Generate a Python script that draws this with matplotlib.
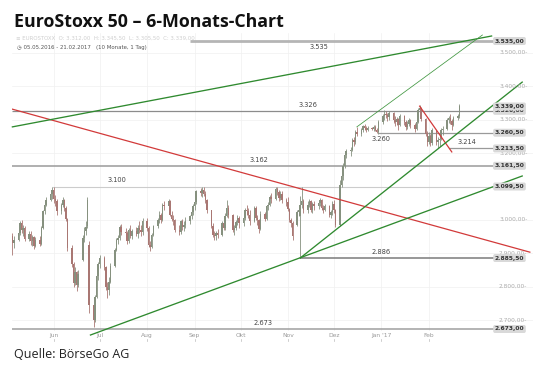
import numpy as np, pandas as pd
import matplotlib
matplotlib.use('Agg')
from matplotlib import pyplot as plt
from matplotlib import dates as mdates
from matplotlib.transforms import blended_transform_factory

# daily candles 05.05.2016 - 21.02.2017 (one row per month)
opens = [
  2950,2930,2940,2960,2990,2968,2975,2942,2958,2935,2948,2920,2940,2928,2975,3025,3045,3060,3078,
  3088,3062,3055,3025,3045,3058,3035,3002,2915,2868,2812,2845,2805,2880,2945,2965,2980,2925,2745,2700,2768,2832,
  2868,2885,2860,2800,2790,2815,2862,2910,2940,2945,2978,2962,2960,2935,2968,2950,2965,2958,2975,2970,2962,
  2995,2975,2925,2918,2955,2980,2998,3015,2998,3045,3040,3055,3015,3002,2998,2968,2962,2995,2978,2985,2995,3010,3022,
  3040,3052,3085,3080,3090,3078,3060,3028,2982,2955,2950,2960,2955,2990,2975,3012,3035,3015,2968,2975,2992,3005,
  2990,3005,3030,3025,3015,2995,3035,3005,2998,2972,3018,3002,3040,3045,3068,3062,3092,3082,3065,3078,3058,
  3052,3032,2998,2990,2985,3022,3010,3045,3055,3030,3045,3055,3028,3048,3040,3050,3058,3035,3028,3042,3015,3022,
  3048,3028,2985,3105,3130,3162,3195,3205,3210,3238,3232,3262,3258,3268,3280,3275,3270,3274,3272,3278,3270,3262,
  3292,3312,3318,3315,3308,3320,3298,3292,3302,3285,3312,3292,3278,3288,3298,3285,3272,3292,3330,3335,3302,3258,
  3232,3252,3230,3268,3232,3238,3242,3268,3272,3298,3305,3295,3285,3305,3312]
highs = [
  2960,2950,2965,2995,3000,2985,2980,2965,2965,2955,2950,2948,2952,2980,3030,3052,3068,3085,3099.5,
  3099,3075,3062,3050,3068,3062,3040,3005,2925,2875,2858,2848,2850,2955,2978,2995,3068,2935,2760,2775,2838,2875,
  2895,2892,2862,2815,2830,2870,2915,2945,2955,2985,2988,2975,2965,2975,2985,2972,2978,2985,2995,2985,3005,
  3005,2980,2935,2960,2985,3005,3025,3020,3050,3055,3062,3058,3025,3015,3002,2985,3000,3002,2995,3008,3015,3030,3048,
  3060,3090,3095,3098,3099,3085,3062,3030,2990,2965,2965,2972,2995,3000,3020,3060,3045,3018,2985,3000,3015,3012,
  3010,3035,3045,3035,3028,3040,3042,3015,3002,3025,3022,3045,3052,3075,3080,3099,3098,3088,3085,3085,3065,
  3068,3035,3005,2995,3028,3040,3070,3098,3062,3055,3062,3060,3052,3055,3058,3065,3062,3045,3048,3045,3030,3055,
  3058,3032,3120,3140,3170,3205,3212,3218,3245,3248,3270,3278,3275,3285,3288,3282,3280,3278,3285,3284,3275,3300,
  3318,3328,3325,3320,3325,3322,3310,3308,3305,3318,3315,3298,3295,3305,3302,3290,3298,3335,3343,3338,3305,3265,
  3262,3258,3275,3270,3248,3250,3275,3280,3305,3312,3318,3302,3312,3318,3345.5]
lows = [
  2895,2915,2935,2955,2960,2950,2935,2935,2925,2920,2912,2918,2922,2925,2972,3018,3040,3055,3062,
  3050,3040,3015,3018,3038,3025,2995,2905,2858,2798,2805,2788,2800,2878,2932,2955,2975,2720,2679,2695,2765,2820,
  2855,2850,2790,2765,2775,2810,2858,2905,2928,2940,2955,2945,2928,2930,2945,2942,2950,2945,2960,2950,2955,
  2965,2918,2905,2915,2950,2975,2990,2990,2995,3030,3035,3010,2995,2985,2962,2955,2958,2970,2965,2975,2988,3002,3015,
  3030,3048,3070,3068,3072,3050,3020,2975,2948,2940,2938,2945,2952,2968,2970,3008,3005,2962,2955,2968,2985,2975,
  2982,3000,3015,3005,2985,2992,3000,2985,2960,2968,2995,2998,3030,3040,3050,3060,3075,3055,3058,3050,3040,
  3025,2992,2978,2940,2982,3012,2885.5,3035,3020,3020,3038,3022,3020,3030,3032,3042,3030,3020,3025,3008,3005,3015,
  3020,2978,2980,3098,3120,3155,3185,3190,3205,3222,3228,3250,3252,3262,3268,3262,3265,3268,3266,3265,3260.5,3258,
  3288,3300,3305,3295,3300,3290,3280,3285,3270,3282,3285,3270,3272,3280,3275,3262,3268,3290,3322,3295,3250,3222,
  3228,3220,3225,3225,3213.5,3220,3238,3255,3268,3290,3288,3268,3280,3298,3305.5]
closes = [
  2930,2940,2960,2990,2968,2975,2942,2958,2935,2948,2920,2940,2928,2975,3025,3045,3060,3078,3088,
  3062,3055,3025,3045,3058,3035,3002,2915,2868,2812,2845,2805,2838,2945,2965,2978,3060,2745,2700,2768,2832,2868,
  2885,2860,2800,2790,2815,2862,2910,2940,2945,2978,2962,2960,2935,2968,2950,2965,2958,2975,2970,2962,2995,
  2975,2925,2918,2955,2980,2998,3015,2998,3045,3040,3055,3015,3002,2998,2968,2962,2995,2978,2985,2995,3010,3022,3040,
  3052,3085,3080,3090,3078,3060,3028,2982,2955,2950,2960,2955,2990,2975,3012,3035,3015,2968,2975,2992,3005,2990,
  3005,3030,3025,3015,2995,3035,3005,2998,2972,3018,3002,3040,3045,3068,3062,3092,3082,3065,3078,3058,3052,
  3032,2998,2990,2952,3022,3030,3045,3055,3030,3045,3055,3028,3048,3040,3050,3058,3035,3028,3042,3015,3022,3048,
  3028,2985,3105,3130,3162,3195,3205,3210,3238,3232,3262,3258,3268,3280,3275,3270,3274,3272,3278,3270,3262,3292,
  3312,3318,3315,3308,3320,3298,3292,3302,3285,3312,3292,3278,3288,3298,3285,3272,3292,3330,3335,3302,3258,3232,
  3252,3230,3268,3232,3238,3242,3268,3272,3298,3305,3295,3285,3305,3312,3339]

# horizontal support / resistance levels and where they start
levels       = [3535, 3326, 3260.5, 3213.5, 3161.5, 3099.5, 2885.5, 2673]
level_starts = ['2016-08-29', '2016-05-05', '2016-12-30', '2017-02-14',
                '2016-05-05', '2016-05-31', '2016-11-09', '2016-05-05']
level_end    = '2017-03-17'

# trend lines: (start date, start price, end date, end price)
trend_red   = [('2016-05-05', 3331, '2017-04-08', 2903),
               ('2017-01-26', 3340, '2017-02-16', 3203)]
trend_green = [('2016-05-05', 3278, '2017-03-14', 3550),
               ('2016-11-09', 2885.5, '2017-04-03', 3412),
               ('2016-06-25', 2655, '2017-04-03', 3131)]
trend_thin  = [('2016-12-16', 3278, '2017-03-08', 3553)]

months       = ['2016-06-01', '2016-07-01', '2016-08-01', '2016-09-01', '2016-10-01',
                '2016-11-01', '2016-12-01', '2017-01-01', '2017-02-01']
month_labels = ['Jun', 'Jul', 'Aug', 'Sep', 'Okt', 'Nov', 'Dez', "Jan '17", 'Feb']
grid_prices  = [3500, 3400, 3300, 3200, 3000, 2900, 2800, 2700]


def de(v, dec=2):
    s = f'{v:,.{dec}f}'
    return s.replace(',', 'X').replace('.', ',').replace('X', '.')

def dn(s):
    return mdates.date2num(pd.Timestamp(s))

W, H = 540, 378
fig = plt.figure(figsize=(W / 100, H / 100), dpi=100)
ax = fig.add_axes([12 / W, 1 - 331 / H, 521 / W, 298 / H])
x0 = dn('2016-05-04 18:00')
ax.set_xlim(x0, x0 + 521 / 1.531)
ax.set_ylim(2667, 3559)
for s in ax.spines.values():
    s.set_visible(False)
ax.set_yticks([])

# faint grid
for p in grid_prices:
    ax.axhline(p, color='#f0f0f0', lw=0.5, zorder=0)
for m in months:
    ax.axvline(dn(m), color='#f0f0f0', lw=0.5, zorder=0)

# candles
dates = pd.bdate_range('2016-05-05', periods=len(closes))
xs = mdates.date2num(dates)
o, h, l, c = map(np.array, (opens, highs, lows, closes))
up = c >= o
col = np.where(up, '#86917f', '#a97773')
ax.vlines(xs, l, h, colors=col, lw=0.6, zorder=3)
body = np.maximum(np.abs(c - o), 3)
ax.bar(xs, body, bottom=np.minimum(o, c), width=0.95, color=col, lw=0, zorder=3)

# levels
lcolors = ['#b5b5b5', '#8c8c8c', '#9a9a9a', '#9a9a9a', '#9a9a9a', '#cccccc', '#7a7a7a', '#9f9f9f']
lwidths = [2.0, 0.9, 0.9, 0.9, 1.1, 0.8, 1.1, 1.1]
for p, st, lc, lw in zip(levels, level_starts, lcolors, lwidths):
    ax.plot([dn(st), dn(level_end)], [p, p], color=lc, lw=lw, zorder=2, solid_capstyle='butt')

# level captions
cap_dates = ['2016-11-21', '2016-11-14', '2017-01-01', '2017-02-26',
             '2016-10-13', '2016-07-12', '2017-01-01', '2016-10-16']
cap_below = [True, False, True, False, False, False, False, False]
for p, d, below in zip(levels, cap_dates, cap_below):
    ax.annotate(de(round(p), 0), (dn(d), p), xytext=(0, -2 if below else 2.2),
                textcoords='offset points', ha='center', va='top' if below else 'bottom',
                fontsize=4.8, color='#444444', zorder=6)

# trend lines
for d1, p1, d2, p2 in trend_red:
    ax.plot([dn(d1), dn(d2)], [p1, p2], color='#d23a3a', lw=0.9, zorder=4)
for d1, p1, d2, p2 in trend_green:
    ax.plot([dn(d1), dn(d2)], [p1, p2], color='#2f8a2f', lw=0.95, zorder=4, clip_on=False)
for d1, p1, d2, p2 in trend_thin:
    ax.plot([dn(d1), dn(d2)], [p1, p2], color='#3f963f', lw=0.55, zorder=4)

# right hand price scale
tr = blended_transform_factory(ax.transAxes, ax.transData)
for p in grid_prices:
    ax.text((499 - 12) / 521, p, de(p) + '-', transform=tr, fontsize=4.2,
            color='#ababab', va='center', ha='left', zorder=5)
box_vals = [3535, 3326, 3339, 3260.5, 3213.5, 3161.5, 3099.5, 2885.5, 2673]
for p in box_vals:
    ax.text((509.5 - 12) / 521, p, de(p), transform=tr, fontsize=4.3, color='#333333',
            weight='bold', va='center', ha='center', zorder=7,
            bbox=dict(boxstyle='round,pad=0.25,rounding_size=0.3', fc='#d9d9d9', ec='none'))

# month axis
ax.set_xticks([dn(m) for m in months])
ax.set_xticklabels(month_labels, fontsize=4.3, color='#999999')
ax.tick_params(axis='x', length=0, pad=1.5)
trx = blended_transform_factory(ax.transData, ax.transAxes)
for m in months:
    ax.plot([dn(m), dn(m)], [-0.026, -0.034], transform=trx, color='#bbbbbb', lw=0.5, clip_on=False)

# header lines
fig.text(16 / W, 1 - 39.5 / H, '\u2261 EUROSTOXX  O: 3.312,00  H: 3.345,50  L: 3.305,50  C: 3.339,00',
         fontsize=3.9, color='#cfcfcf', va='baseline')
fig.text(17 / W, 1 - 49 / H, '\u25f7 05.05.2016 - 21.02.2017   (10 Monate, 1 Tag)',
         fontsize=3.9, color='#555555', va='baseline')

fig.text(14 / W, 1 - 27 / H, 'EuroStoxx 50 \u2013 6-Monats-Chart', fontsize=12.8,
         weight='bold', family='Open Sans', va='baseline', color='#111111')
fig.text(14 / W, 1 - 358 / H, 'Quelle: BörseGo AG', fontsize=9, family='Open Sans',
         va='baseline', color='#222222')

fig.savefig('out.png', dpi=100)
